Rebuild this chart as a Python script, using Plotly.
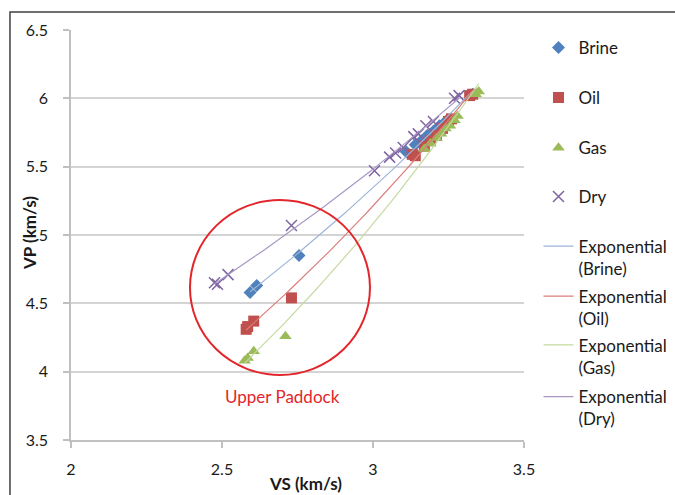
import numpy as np
import plotly.graph_objects as go

# ---------------- data ----------------
brine_vs = [2.593, 2.615, 2.755, 3.11, 3.14, 3.16, 3.18, 3.20, 3.22, 3.24, 3.33]
brine_vp = [4.58, 4.63, 4.85, 5.61, 5.66, 5.69, 5.73, 5.76, 5.80, 5.83, 6.03]

oil_vs = [2.58, 2.585, 2.605, 2.73, 3.13, 3.14, 3.17, 3.19, 3.21, 3.23, 3.25, 3.26, 3.32, 3.33]
oil_vp = [4.31, 4.33, 4.37, 4.54, 5.59, 5.58, 5.65, 5.69, 5.73, 5.78, 5.83, 5.85, 6.02, 6.03]

gas_vs = [2.575, 2.585, 2.605, 2.71, 3.17, 3.19, 3.21, 3.225, 3.24, 3.255, 3.27, 3.28, 3.34, 3.35]
gas_vp = [4.08, 4.10, 4.15, 4.26, 5.63, 5.67, 5.71, 5.74, 5.78, 5.80, 5.84, 5.87, 6.03, 6.05]

dry_vs = [2.475, 2.485, 2.52, 2.73, 3.005, 3.055, 3.075, 3.10, 3.135, 3.15, 3.175, 3.20, 3.27, 3.285]
dry_vp = [4.65, 4.64, 4.71, 5.07, 5.47, 5.57, 5.60, 5.64, 5.72, 5.74, 5.80, 5.83, 6.00, 6.02]

series_names = ["Brine", "Oil", "Gas", "Dry"]
x_ticks = [2, 2.5, 3, 3.5]
y_ticks = [3.5, 4, 4.5, 5, 5.5, 6, 6.5]

annotation_text = "Upper Paddock"

# ---------------- style ----------------
FONT = "Lato, 'Liberation Sans', sans-serif"
TXT = "#1a1a1a"
colors = {"Brine": "#4F81BD", "Oil": "#C0504D", "Gas": "#9BBB59", "Dry": "#8064A2"}
trend_colors = {"Brine": "#9DB5D8", "Oil": "#DB7D7A", "Gas": "#C6D9A0", "Dry": "#A898C4"}
symbols = {"Brine": "diamond", "Oil": "square", "Gas": "triangle-up", "Dry": "x-thin"}
sizes = {"Brine": 10, "Oil": 11, "Gas": 11, "Dry": 11}

data = {
    "Brine": (brine_vs, brine_vp),
    "Oil": (oil_vs, oil_vp),
    "Gas": (gas_vs, gas_vp),
    "Dry": (dry_vs, dry_vp),
}

marker_legend_y = {"Brine": 0.956, "Oil": 0.834, "Gas": 0.712, "Dry": 0.593}
trend_legend_y = {"Brine": 0.445, "Oil": 0.323, "Gas": 0.204, "Dry": 0.078}
LEG_X = 1.032

fig = go.Figure()
legend_layouts = {}
idx = 1
# marker traces
for name in series_names:
    xs, ys = data[name]
    lname = "legend" if idx == 1 else f"legend{idx}"
    if symbols[name] == "x-thin":
        mk = dict(symbol="x-thin", size=sizes[name], color=colors[name],
                  line=dict(color=colors[name], width=1.5))
    else:
        mk = dict(symbol=symbols[name], size=sizes[name], color=colors[name],
                  line=dict(width=0))
    fig.add_trace(go.Scatter(x=xs, y=ys, mode="markers", name=name, marker=mk,
                             legend=lname))
    legend_layouts[lname] = dict(x=LEG_X, y=marker_legend_y[name], xanchor="left",
                                 yanchor="middle", bgcolor="rgba(0,0,0,0)",
                                 font=dict(family=FONT, size=17, color=TXT))
    idx += 1

# exponential trendlines (fit VP = a*exp(b*VS))
for name in series_names:
    xs, ys = data[name]
    xs = np.array(xs, dtype=float)
    ys = np.array(ys, dtype=float)
    b, lna = np.polyfit(xs, np.log(ys), 1)
    xl = np.linspace(xs.min(), xs.max(), 60)
    yl = np.exp(lna) * np.exp(b * xl)
    lname = f"legend{idx}"
    fig.add_trace(go.Scatter(x=xl, y=yl, mode="lines", name=f"Exponential<br>({name})",
                             line=dict(color=trend_colors[name], width=1.2),
                             legend=lname, hoverinfo="skip"))
    legend_layouts[lname] = dict(x=LEG_X, y=trend_legend_y[name], xanchor="left",
                                 yanchor="middle", valign="top", bgcolor="rgba(0,0,0,0)",
                                 font=dict(family=FONT, size=17, color=TXT))
    idx += 1

# circle highlighting Upper Paddock group
CIRCLE = dict(x0=2.394, x1=2.990, y0=3.976, y1=5.256)
fig.add_shape(type="circle", xref="x", yref="y", **CIRCLE,
              line=dict(color="#E3262B", width=2))
fig.add_annotation(x=2.699, y=3.815, xref="x", yref="y", text=annotation_text,
                   showarrow=False, font=dict(family=FONT, size=17, color="#E3262B"))

# outer frame
fig.add_shape(type="rect", xref="paper", yref="paper", x0=-0.1347, x1=2, y0=-1, y1=1.0439,
              line=dict(color="#404040", width=1.5), layer="below")

# axis titles
fig.add_annotation(x=0.517, y=-0.105, xref="paper", yref="paper", text="<b>VS (km/s)</b>",
                   showarrow=False, font=dict(family=FONT, size=17, color=TXT),
                   xanchor="center", yanchor="middle")
fig.add_annotation(x=-0.0905, y=0.505, xref="paper", yref="paper", text="<b>VP (km/s)</b>",
                   showarrow=False, textangle=-90,
                   font=dict(family=FONT, size=17, color=TXT),
                   xanchor="center", yanchor="middle")

fig.update_layout(
    width=675, height=495,
    margin=dict(l=71, r=151, t=30, b=55, autoexpand=False),
    paper_bgcolor="white", plot_bgcolor="white",
    font=dict(family=FONT, size=16, color=TXT),
    showlegend=True,
    **legend_layouts,
)
fig.update_xaxes(range=[2, 3.5], tickvals=x_ticks, ticktext=[str(v) for v in x_ticks],
                 showgrid=False, zeroline=False, showline=True, linecolor="#C0C0C0",
                 linewidth=1.5, ticks="outside", ticklen=6, tickcolor="#C0C0C0",
                 tickwidth=1.5, ticklabelstandoff=8,
                 tickfont=dict(family=FONT, size=16, color=TXT))
fig.update_yaxes(range=[3.5, 6.5], tickvals=y_ticks,
                 ticktext=[("%g" % v) for v in y_ticks],
                 showgrid=True, gridcolor="#D4D4D4", gridwidth=1.5, zeroline=False,
                 showline=True, linecolor="#C0C0C0", linewidth=1.5,
                 ticks="outside", ticklen=6, tickcolor="#C0C0C0", tickwidth=1.5,
                 ticklabelstandoff=12,
                 tickfont=dict(family=FONT, size=16, color=TXT))

fig.write_html("out.html")
